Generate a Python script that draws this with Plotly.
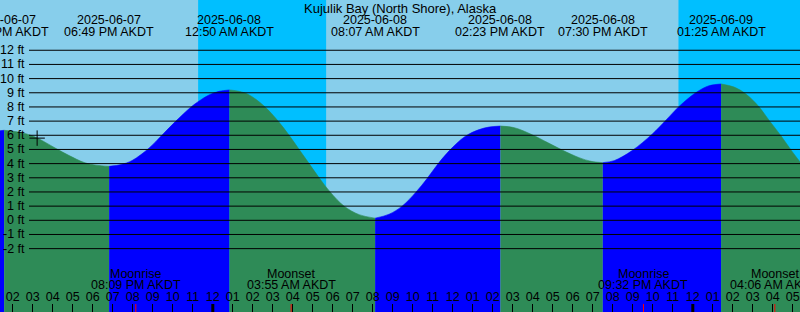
import plotly.graph_objects as go
from datetime import datetime, timedelta

TITLE = "Kujulik Bay (North Shore), Alaska"
TZ = "AKDT"

# Tide curve (local time, feet)
tide_time = [
    "2025-06-07 12:49", "2025-06-07 13:34", "2025-06-07 14:19", "2025-06-07 14:58",
    "2025-06-07 15:34", "2025-06-07 16:10", "2025-06-07 16:49", "2025-06-07 17:34",
    "2025-06-07 18:10", "2025-06-07 18:49", "2025-06-07 19:25", "2025-06-07 19:58",
    "2025-06-07 20:49", "2025-06-07 21:28", "2025-06-07 22:10", "2025-06-07 22:55",
    "2025-06-07 23:19", "2025-06-07 23:49", "2025-06-08 00:19", "2025-06-08 00:50",
    "2025-06-08 01:19", "2025-06-08 01:49", "2025-06-08 02:37", "2025-06-08 03:16",
    "2025-06-08 03:49", "2025-06-08 04:19", "2025-06-08 04:49", "2025-06-08 05:19",
    "2025-06-08 05:52", "2025-06-08 06:34", "2025-06-08 07:19", "2025-06-08 08:07",
    "2025-06-08 08:49", "2025-06-08 09:28", "2025-06-08 10:10", "2025-06-08 10:43",
    "2025-06-08 11:13", "2025-06-08 11:49", "2025-06-08 12:37", "2025-06-08 13:19",
    "2025-06-08 13:49", "2025-06-08 14:23", "2025-06-08 15:04", "2025-06-08 15:58",
    "2025-06-08 16:43", "2025-06-08 17:28", "2025-06-08 18:19", "2025-06-08 18:55",
    "2025-06-08 19:30", "2025-06-08 20:04", "2025-06-08 20:58", "2025-06-08 21:58",
    "2025-06-08 22:40", "2025-06-08 23:19", "2025-06-09 00:10", "2025-06-09 00:49",
    "2025-06-09 01:25", "2025-06-09 02:04", "2025-06-09 02:40", "2025-06-09 03:19",
    "2025-06-09 03:49", "2025-06-09 04:25", "2025-06-09 04:55", "2025-06-09 05:19",
    "2025-06-09 05:49",
]
tide_ft = [
    6.25, 6.35, 6.22, 5.97,
    5.55, 5.06, 4.57, 4.08,
    3.89, 3.81, 3.93, 4.22,
    5.1, 6.02, 7.02, 8.0,
    8.42, 8.85, 9.1, 9.2,
    9.1, 8.85, 8.0, 7.0,
    6.0, 5.0, 4.0, 3.0,
    2.0, 1.0, 0.4, 0.15,
    0.43, 1.0, 2.0, 2.95,
    3.9, 4.9, 5.92, 6.4,
    6.58, 6.65, 6.54, 6.04,
    5.5, 4.96, 4.42, 4.16,
    4.07, 4.21, 4.92, 6.08,
    7.08, 8.04, 9.02, 9.5,
    9.62, 9.4, 8.9, 8.0,
    7.05, 5.95, 4.95, 4.2,
    3.3,
]

# High / low tide events shown in the header
event_time = ["2025-06-07 13:34", "2025-06-07 18:49", "2025-06-08 00:50",
              "2025-06-08 08:07", "2025-06-08 14:23", "2025-06-08 19:30",
              "2025-06-09 01:25"]

# Moon events shown at the bottom
moon_time = ["2025-06-07 20:09", "2025-06-08 03:55", "2025-06-08 21:32", "2025-06-09 04:06"]
moon_kind = ["Moonrise", "Moonset", "Moonrise", "Moonset"]

# Night periods (between sunset and sunrise)
night_start = ["2025-06-07 23:16", "2025-06-08 23:17"]
night_end = ["2025-06-08 05:40", "2025-06-09 05:40"]

# "+" mark
mark_time = ["2025-06-07 15:13"]
mark_ft = [5.8]

depth_ticks = list(range(-2, 13))

view_start = "2025-06-07 13:21:36"
view_end = "2025-06-09 05:21:36"
y_range = [-6.471, 15.547]

DAY = "#87CEEB"
NIGHT = "#00BFFF"
FLOOD = "#0000FF"
EBB = "#2E8B57"
FONT = "Liberation Sans"
FS = 12.5

fig = go.Figure()

# split tide curve into rising / falling segments at the extrema
segs = []
s = 0
for i in range(1, len(tide_ft) - 1):
    if (tide_ft[i] - tide_ft[i - 1]) * (tide_ft[i + 1] - tide_ft[i]) < 0:
        segs.append((s, i))
        s = i
segs.append((s, len(tide_ft) - 1))

for a, b in segs:
    rising = tide_ft[b] > tide_ft[a]
    col = FLOOD if rising else EBB
    fig.add_trace(go.Scatter(x=[tide_time[a], tide_time[b]], y=[-10, -10], mode="lines",
                             line=dict(width=0, color=col), hoverinfo="skip", showlegend=False))
    fig.add_trace(go.Scatter(x=tide_time[a:b + 1], y=tide_ft[a:b + 1], mode="lines",
                             line=dict(width=0.6, color=col, shape="spline"),
                             fill="tonexty", fillcolor=col, hoverinfo="skip", showlegend=False))

fig.add_trace(go.Scatter(x=mark_time, y=mark_ft, mode="markers",
                         marker=dict(symbol="cross-thin", size=11, line=dict(width=1, color="black")),
                         hoverinfo="skip", showlegend=False))

shapes = []
for ns, ne in zip(night_start, night_end):
    shapes.append(dict(type="rect", xref="x", yref="paper", x0=ns, x1=ne, y0=0, y1=1,
                       fillcolor=NIGHT, line=dict(width=0), layer="below"))
for d in depth_ticks:
    shapes.append(dict(type="line", xref="paper", yref="y", x0=29 / 800, x1=1, y0=d, y1=d,
                       line=dict(color="black", width=1), layer="above"))

annotations = []
for d in depth_ticks:
    annotations.append(dict(xref="paper", yref="y", x=27 / 800, y=d, text=f"{d} ft",
                            xanchor="right", yanchor="middle", showarrow=False,
                            font=dict(family=FONT, size=FS, color="black")))

annotations.append(dict(xref="paper", yref="paper", x=0.5, y=1 - 8 / 312, text=TITLE,
                        xanchor="center", yanchor="middle", showarrow=False,
                        font=dict(family=FONT, size=13, color="black")))

for et in event_time:
    dt = datetime.strptime(et, "%Y-%m-%d %H:%M")
    annotations.append(dict(xref="x", yref="paper", x=et, y=1 - 20 / 312,
                            text=dt.strftime("%Y-%m-%d"), xanchor="center", yanchor="middle",
                            showarrow=False, font=dict(family=FONT, size=FS, color="black")))
    annotations.append(dict(xref="x", yref="paper", x=et, y=1 - 32 / 312,
                            text=dt.strftime("%I:%M %p ") + TZ, xanchor="center", yanchor="middle",
                            showarrow=False, font=dict(family=FONT, size=FS, color="black")))

for mt, mk in zip(moon_time, moon_kind):
    dt = datetime.strptime(mt, "%Y-%m-%d %H:%M")
    annotations.append(dict(xref="x", yref="paper", x=mt, y=1 - 273.5 / 312, text=mk,
                            xanchor="center", yanchor="middle", showarrow=False,
                            font=dict(family=FONT, size=FS, color="black")))
    annotations.append(dict(xref="x", yref="paper", x=mt, y=1 - 285 / 312,
                            text=dt.strftime("%I:%M %p ") + TZ, xanchor="center", yanchor="middle",
                            showarrow=False, font=dict(family=FONT, size=FS, color="black")))
    shapes.append(dict(type="line", xref="x", yref="paper", x0=mt, x1=mt, y0=0, y1=8 / 312,
                       line=dict(color="red", width=1), layer="above"))

# thick ticks at midnight
d0 = datetime.strptime(view_start, "%Y-%m-%d %H:%M:%S")
d1 = datetime.strptime(view_end, "%Y-%m-%d %H:%M:%S")
m = datetime(d0.year, d0.month, d0.day) + timedelta(days=1)
while m < d1:
    shapes.append(dict(type="line", xref="x", yref="paper", x0=m, x1=m, y0=0, y1=8 / 312,
                       line=dict(color="black", width=3), layer="above"))
    m += timedelta(days=1)

fig.update_layout(
    width=800, height=312,
    margin=dict(l=0, r=0, t=0, b=0),
    paper_bgcolor=DAY, plot_bgcolor=DAY,
    showlegend=False,
    shapes=shapes, annotations=annotations,
    xaxis=dict(type="date", range=[view_start, view_end], tickformat="%I",
               tick0="2025-06-07 00:00", dtick=3600000, ticks="inside", ticklen=8,
               tickwidth=1, tickcolor="black", ticklabelposition="inside",
               ticklabeloverflow="allow", showgrid=False, zeroline=False, showline=False,
               tickfont=dict(family=FONT, size=FS, color="black"), layer="above traces"),
    yaxis=dict(range=y_range, showgrid=False, zeroline=False, showticklabels=False,
               ticks=""),
)

fig.write_html("out.html")
